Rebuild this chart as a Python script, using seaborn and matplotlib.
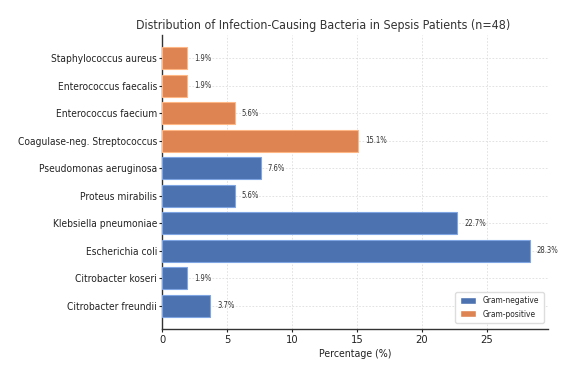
import matplotlib
matplotlib.use("Agg")
import matplotlib.pyplot as plt
import seaborn as sns
import pandas as pd
from matplotlib.patches import Patch
from matplotlib import font_manager as fm

bacteria = ["Citrobacter freundii", "Citrobacter koseri", "Escherichia coli",
            "Klebsiella pneumoniae", "Proteus mirabilis", "Pseudomonas aeruginosa",
            "Coagulase-neg. Streptococcus", "Enterococcus faecium",
            "Enterococcus faecalis", "Staphylococcus aureus"]
percent = [3.7, 1.9, 28.3, 22.7, 5.6, 7.6, 15.1, 5.6, 1.9, 1.9]
gram = ["Gram-negative"] * 6 + ["Gram-positive"] * 4

palette = {"Gram-negative": "#4C72B0", "Gram-positive": "#DD8452"}

sns.set_style("white")
plt.rcParams["font.family"] = ["DejaVu Sans"]

has_cond = any("DejaVuSansCondensed.ttf" in f.fname for f in fm.fontManager.ttflist)
if has_cond:
    plt.rcParams["font.stretch"] = "condensed"
    k = 1.0 / 0.91
else:
    k = 1.0

df = pd.DataFrame({"bacteria": bacteria, "percent": percent, "gram": gram})
order = bacteria[::-1]

fig = plt.figure(figsize=(5.74, 3.73), dpi=100)
ax = fig.add_axes([162/574, 1 - 329/373, (548-162)/574, (329-35)/373])

sns.barplot(data=df, y="bacteria", x="percent", hue="gram", order=order,
            palette=palette, dodge=False, orient="h", width=0.8, saturation=1,
            linewidth=0.8, ax=ax, legend=False, zorder=3)
for bar in ax.patches:
    fc = bar.get_facecolor()
    bar.set_edgecolor((min(1, fc[0] + 0.2), min(1, fc[1] + 0.2), min(1, fc[2] + 0.2), 1))

for i, name in enumerate(order):
    v = percent[bacteria.index(name)]
    ax.text(v + 0.55, i, f"{v:.1f}%", va="center", ha="left", fontsize=5 * k, color="#333333")

ax.set_xlim(0, 29.7)
ax.set_ylim(9.85, -0.85)
ax.set_xticks([0, 5, 10, 15, 20, 25])
ax.grid(True, linestyle=(0, (2, 2)), color="#dddddd", linewidth=0.6, zorder=0)
ax.set_axisbelow(True)
for s in ["top", "right"]:
    ax.spines[s].set_visible(False)
for s in ["left", "bottom"]:
    ax.spines[s].set_color("#333333")
    ax.spines[s].set_linewidth(1.0)
ax.tick_params(axis="y", labelsize=6.6 * k, length=2, width=0.8, pad=1.5, colors="#222222", left=True)
ax.tick_params(axis="x", labelsize=7.3 * k, length=2.5, width=0.8, pad=2, colors="#222222", bottom=True)
ax.set_ylabel("")
ax.set_xlabel("Percentage (%)", fontsize=6.9 * k, color="#222222", labelpad=3)
fig.text(323/574, 1 - 26/373, "Distribution of Infection-Causing Bacteria in Sepsis Patients (n=48)",
         fontsize=8.1 * k, color="#333333", ha="center", va="center")

handles = [Patch(facecolor=palette[c], edgecolor="#ffffff", label=c) for c in ["Gram-negative", "Gram-positive"]]
ax.legend(handles=handles, loc="lower right", bbox_to_anchor=(1.0, 0.007), fontsize=5.5 * k,
          frameon=True, framealpha=1, edgecolor="#dddddd", handlelength=2.2 / k,
          handleheight=0.9, borderpad=0.5, labelspacing=0.5)

fig.savefig("out.png", dpi=100)
